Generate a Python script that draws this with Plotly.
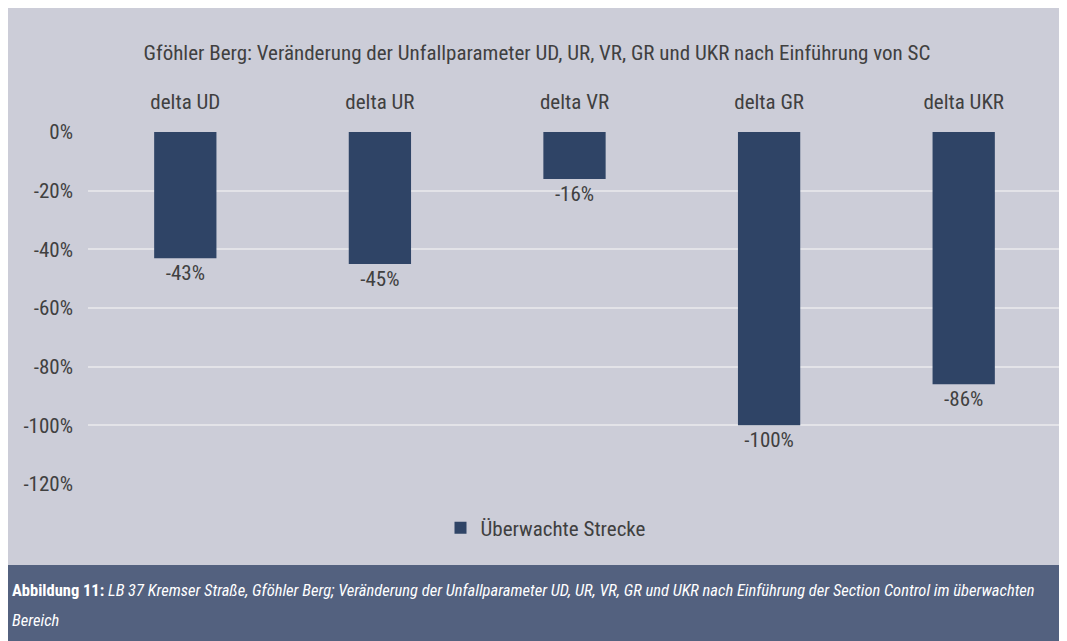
import plotly.graph_objects as go

categories = ["delta UD", "delta UR", "delta VR", "delta GR", "delta UKR"]
values = [-43, -45, -16, -100, -86]
value_labels = ["-43%", "-45%", "-16%", "-100%", "-86%"]
y_ticks = [0, -20, -40, -60, -80, -100, -120]
y_tick_labels = ["0%", "-20%", "-40%", "-60%", "-80%", "-100%", "-120%"]
series_name = "Überwachte Strecke"
title_text = "Gföhler Berg: Veränderung der Unfallparameter UD, UR, VR, GR und UKR nach Einführung von SC"
caption_bold = "Abbildung 11:"
caption_line1 = "LB 37 Kremser Straße, Gföhler Berg; Veränderung der Unfallparameter UD, UR, VR, GR und UKR nach Einführung der Section Control im überwachten"
caption_line2 = "Bereich"

FONT = "Roboto Condensed, Liberation Sans Narrow, sans-serif"
TXT = "#404040"
BG = "#cccdd8"
BAR = "#2f4466"
CAP = "#53617f"

# page has an 8px body margin; figure fills the rest of the 1067x641 window
OFF = 8
W, H = 1067 - OFF, 641 - OFF
# plot area in page pixels: x 88..1061, y 132..484
PL, PR, PT, PB = 88, 1061, 132, 484
L, R, T, B = PL - OFF, W - (PR - OFF), PT - OFF, H - (PB - OFF)
pw = W - L - R
ph = H - T - B

def px_x(x):
    return (x - OFF - L) / pw

def px_y(y):
    return (H - B - (y - OFF)) / ph

fig = go.Figure()
fig.add_trace(go.Bar(
    x=categories, y=values, name=series_name,
    marker=dict(color=BAR, line=dict(width=0)),
    text=value_labels, textposition="outside", cliponaxis=False,
    textfont=dict(family=FONT, size=21, color=TXT),
    showlegend=True,
))

shapes = [
    dict(type="rect", xref="paper", yref="paper", layer="below",
         x0=px_x(6), x1=px_x(1064), y0=px_y(565), y1=px_y(8),
         fillcolor=BG, line=dict(width=0)),
    dict(type="rect", xref="paper", yref="paper", layer="below",
         x0=px_x(6), x1=px_x(1064), y0=px_y(645), y1=px_y(565),
         fillcolor=CAP, line=dict(width=0)),
]

annotations = [
    dict(xref="paper", yref="paper", x=px_x(10), y=px_y(590), xanchor="left", yanchor="middle",
         showarrow=False, align="left",
         text=f"<b>{caption_bold}</b> <i>{caption_line1}</i>",
         font=dict(family=FONT, size=16.5, color="white")),
    dict(xref="paper", yref="paper", x=px_x(10), y=px_y(620), xanchor="left", yanchor="middle",
         showarrow=False, align="left",
         text=f"<i>{caption_line2}</i>",
         font=dict(family=FONT, size=16.5, color="white")),
]

fig.update_layout(
    width=W, height=H,
    margin=dict(l=L, r=R, t=T, b=B),
    paper_bgcolor="white", plot_bgcolor=BG,
    font=dict(family=FONT, color=TXT, size=21),
    title=dict(text=title_text, x=(537 - OFF) / W, xanchor="center",
               y=1 - (53 - OFF) / H, yanchor="middle", yref="container", xref="container",
               font=dict(family=FONT, size=21, color=TXT)),
    bargap=0.68,
    shapes=shapes,
    annotations=annotations,
    legend=dict(orientation="h", x=px_x(546), xanchor="center", y=px_y(528), yanchor="middle",
                bgcolor="rgba(0,0,0,0)", font=dict(family=FONT, size=21, color=TXT)),
    xaxis=dict(side="top", showgrid=False, showline=False, ticks="",
               ticklabelstandoff=18, tickfont=dict(family=FONT, size=21, color=TXT)),
    yaxis=dict(range=[-120, 0], tickvals=y_ticks, ticktext=y_tick_labels,
               showgrid=True, gridcolor="#e3e3e8", gridwidth=2, zeroline=False,
               showline=False, ticks="", ticklabelstandoff=14,
               tickfont=dict(family=FONT, size=21, color=TXT)),
)

fig.write_html("out.html")
